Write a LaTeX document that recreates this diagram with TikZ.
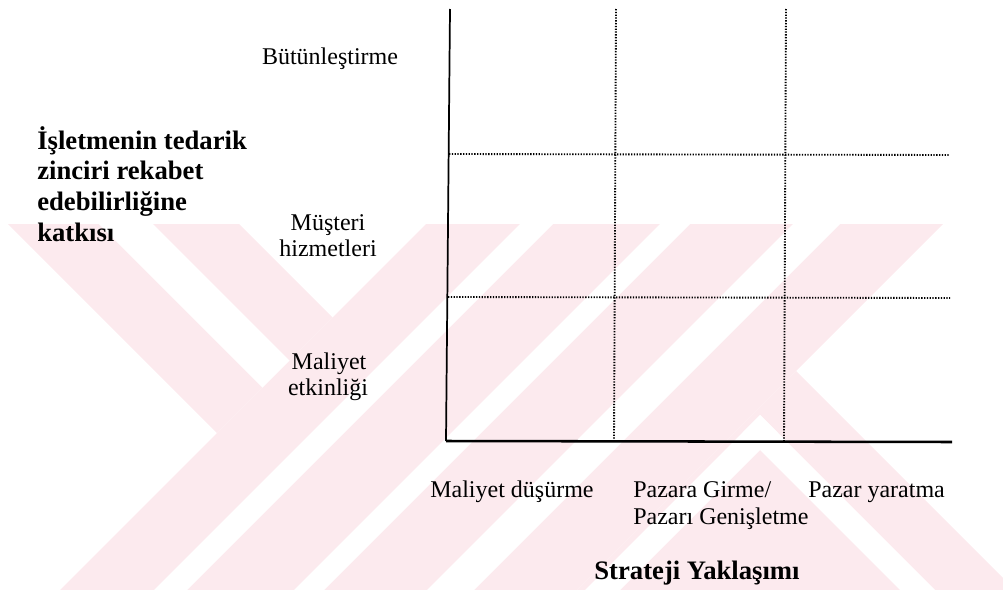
\documentclass[tikz,border=0pt]{standalone}
\usepackage{fontspec}
\setmainfont{Liberation Serif}
\definecolor{wmpink}{RGB}{252,234,238}
\begin{document}
\begin{tikzpicture}[x=0.75pt,y=-0.75pt,
  lbl/.style={font=\fontsize{18}{20}\selectfont, inner sep=0pt},
  ttl/.style={font=\fontsize{20}{23}\selectfont\bfseries, inner sep=0pt},
  vaxis/.style={line width=1.3pt, black},
  haxis/.style={line width=1.9pt, black},
  gridline/.style={line width=1.4pt, dash pattern=on 1pt off 1.1pt, black}]
\useasboundingbox (0,0) rectangle (1003,589);

% background emblem: diagonal bands, given in (X+Y, X-Y) coordinates
\begin{scope}
  \clip (0,224) rectangle (1003,589);
  \begin{scope}[x={(0.375pt,-0.375pt)}, y={(0.375pt,0.375pt)}]
    % pink bands
    \fill[wmpink] (-2000,-216) -- (650,-216) -- (650,15) -- (-2000,15) -- cycle;
    \fill[wmpink] (650,-3000) -- (1167,-3000) -- (1167,3000) -- (650,3000) -- cycle;
    \fill[wmpink] (1167,-3000) -- (3000,-3000) -- (3000,425) -- (1167,425) -- cycle;
    % white inner stripes
    \fill[white] (-2000,-125) -- (650,-125) -- (650,-71) -- (-2000,-71) -- cycle;
    \fill[white] (744,-3000) -- (777,-3000) -- (777,3000) -- (744,3000) -- cycle;
    \fill[white] (884,-3000) -- (914,-3000) -- (914,3000) -- (884,3000) -- cycle;
    \fill[white] (1017,-3000) -- (1064,-3000) -- (1064,3000) -- (1017,3000) -- cycle;
    \fill[white] (1175,-3000) -- (1210,-3000) -- (1210,345) -- (1175,345) -- cycle;
    \fill[white] (1175,310) -- (3000,310) -- (3000,345) -- (1175,345) -- cycle;
  \end{scope}
\end{scope}

% axes
\coordinate (vtop) at (450,9);
\coordinate (org) at (446,441);
\coordinate (hend) at (952,442);
\draw[vaxis] (vtop) -- (org);
\draw[haxis] (org) -- (hend);

% grid in thirds
\coordinate (d1t) at (616,9);   \coordinate (d1b) at (614,441);
\coordinate (d2t) at (786,9);   \coordinate (d2b) at (784,441);
\coordinate (h1l) at (449,154); \coordinate (h1r) at (950,155);
\coordinate (h2l) at (448,297); \coordinate (h2r) at (950,298);
\draw[gridline] (d1t) -- (d1b);
\draw[gridline] (d2t) -- (d2b);
\draw[gridline] (h1l) -- (h1r);
\draw[gridline] (h2l) -- (h2r);

% vertical axis title
\node[ttl, anchor=base west] (t1) at (37,149) {İşletmenin tedarik};
\node[ttl, anchor=base west] (t2) at (37,179) {zinciri rekabet};
\node[ttl, anchor=base west] (t3) at (37,210) {edebilirliğine};
\node[ttl, anchor=base west] (t4) at (37,241) {katkısı};

% vertical axis levels
\node[lbl, anchor=base] (y3) at (330,64) {Bütünleştirme};
\node[lbl, anchor=base] (y2a) at (328,230) {Müşteri};
\node[lbl, anchor=base] (y2b) at (328,256) {hizmetleri};
\node[lbl, anchor=base] (y1a) at (329,369) {Maliyet};
\node[lbl, anchor=base] (y1b) at (328,395) {etkinliği};

% horizontal axis levels
\node[lbl, anchor=base west] (x1) at (430,497) {Maliyet düşürme};
\node[lbl, anchor=base west] (x2a) at (633,497) {Pazara Girme/};
\node[lbl, anchor=base west] (x2b) at (633,524) {Pazarı Genişletme};
\node[lbl, anchor=base west] (x3) at (808,497) {Pazar yaratma};

% horizontal axis title
\node[ttl, anchor=base] (xt) at (697,579) {Strateji Yaklaşımı};
\end{tikzpicture}
\end{document}
